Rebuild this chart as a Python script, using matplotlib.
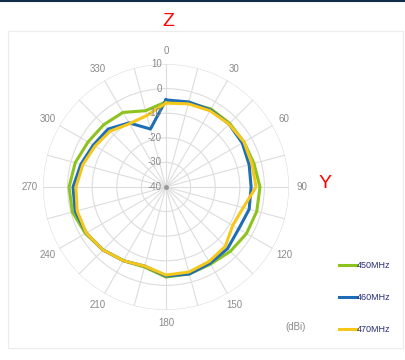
import numpy as np
import matplotlib
matplotlib.use('Agg')
import matplotlib.pyplot as plt
from matplotlib.patches import Rectangle
from matplotlib.lines import Line2D

plt.rcParams['font.family'] = ['Liberation Sans', 'DejaVu Sans']

# angles in degrees (clockwise from top), gain in dBi
angles = [0, 15, 30, 45, 60, 75, 90, 105, 120, 135, 150, 165,
          180, 195, 210, 225, 240, 255, 270, 285, 300, 315, 330, 345]
gain_450 = [-5.4, -4.6, -3.4, -3.4, -3.4, -3.0, -1.8, -1.8, -2.2, -3.0, -3.8, -3.4,
            -3.4, -6.3, -5.4, -3.8, -2.2, -0.6, -0.6, -1.8, -3.4, -4.2, -5.0, -7.9]
gain_460 = [-4.6, -4.2, -3.8, -3.8, -4.2, -5.0, -5.4, -5.0, -5.9, -4.6, -4.2, -3.4,
            -3.8, -6.7, -5.4, -3.8, -2.6, -1.8, -2.2, -4.2, -5.9, -6.7, -9.9, -15.6]
gain_470 = [-5.9, -5.0, -4.2, -3.8, -3.4, -3.8, -3.4, -7.5, -8.7, -5.9, -5.0, -4.2,
            -4.2, -6.7, -5.4, -3.8, -2.6, -2.6, -3.4, -5.0, -6.7, -7.9, -10.3, -9.9]
series = [('450MHz', gain_450, '#8dc21f'),
          ('460MHz', gain_460, '#1f6db4'),
          ('470MHz', gain_470, '#f5c71a')]
r_ticks = [-40, -30, -20, -10, 0, 10]

fig = plt.figure(figsize=(4.06, 3.6), dpi=100)
fig.patch.set_facecolor('white')

# light frame and dark top line
fig.add_artist(Rectangle((8 / 406, 1 - 348 / 360), 395 / 406, 317 / 360,
                         transform=fig.transFigure, fill=False,
                         edgecolor='#ececec', linewidth=0.8))
fig.add_artist(Line2D([0, 1], [0.997, 0.997], transform=fig.transFigure,
                      color='#0f2a44', linewidth=1.5))

ax = fig.add_axes([43 / 406, 1 - 310 / 360, 246 / 406, 246 / 360], projection='polar')
ax.set_theta_zero_location('N')
ax.set_theta_direction(-1)
ax.set_ylim(-40, 10)
ax.spines['polar'].set_visible(False)

ticks15 = np.arange(0, 360, 15)
labels15 = [str(a) if a % 30 == 0 else '' for a in ticks15]
ax.set_thetagrids(ticks15, labels15)
ax.set_yticks(r_ticks[1:])
ax.set_yticklabels([])
ax.grid(color='#dddddd', linewidth=0.8)
ax.tick_params(axis='x', labelsize=7, colors='#8a8a8a', pad=-1)

for name, vals, col in series:
    th = np.deg2rad(angles + [angles[0]])
    ax.plot(th, vals + [vals[0]], color=col, linewidth=2.2, label=name)

for r in r_ticks:
    ax.annotate(str(r), xy=(0, r), xytext=(-3, 0), textcoords='offset points',
                ha='right', va='center', fontsize=7, color='#8a8a8a')
ax.plot([0], [-40], 'o', color='#999999', markersize=2.5)

fig.text(168 / 406, 1 - 22 / 360, 'Z', color='red', fontsize=14,
         ha='center', va='center')
fig.text(325 / 406, 1 - 183 / 360, 'Y', color='red', fontsize=14,
         ha='center', va='center')
fig.text(296 / 406, 1 - 327 / 360, '(dBi)', color='#8a8a8a', fontsize=7,
         ha='center', va='center')

leg = fig.legend(loc='center left', bbox_to_anchor=(0.815, 0.174),
                 frameon=False, fontsize=6.5, labelspacing=2.55,
                 handlelength=2.0, handletextpad=0.0)
for t in leg.get_texts():
    t.set_color('#2a2f7a')

fig.savefig('out.png', dpi=100)
